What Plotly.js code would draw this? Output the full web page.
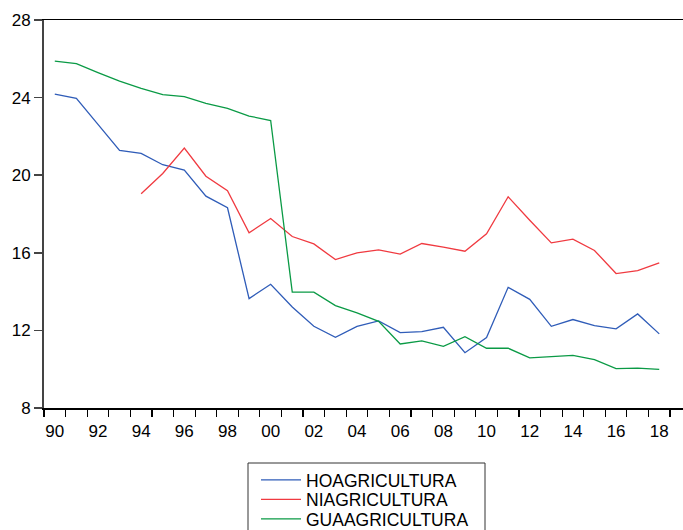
<!DOCTYPE html>
<html>
<head>
<meta charset="utf-8">
<script src="https://cdn.plot.ly/plotly-3.0.1.min.js"></script>
<style>
html,body{margin:0;padding:0;background:#fff;overflow:hidden;}
#chart{width:683px;height:560px;}
</style>
</head>
<body>
<div id="chart"></div>
<script>
const years = [1990,1991,1992,1993,1994,1995,1996,1997,1998,1999,2000,2001,2002,2003,2004,2005,2006,2007,2008,2009,2010,2011,2012,2013,2014,2015,2016,2017,2018];
const hoAgricultura = [24.18,23.96,22.62,21.28,21.12,20.54,20.26,18.92,18.32,13.64,14.38,13.21,12.21,11.64,12.21,12.49,11.89,11.94,12.16,10.85,11.63,14.22,13.60,12.21,12.56,12.25,12.08,12.85,11.82];
const niAgricultura = [null,null,null,null,19.04,20.09,21.40,19.95,19.20,17.03,17.77,16.84,16.46,15.65,16.00,16.15,15.93,16.48,16.29,16.08,16.98,18.89,17.68,16.51,16.70,16.12,14.93,15.08,15.48];
const guaAgricultura = [25.88,25.75,25.29,24.85,24.48,24.15,24.05,23.70,23.44,23.05,22.82,13.97,13.97,13.28,12.90,12.47,11.30,11.46,11.18,11.68,11.08,11.08,10.58,10.66,10.71,10.49,10.03,10.06,9.99];
const seriesNames = ["HOAGRICULTURA","NIAGRICULTURA","GUAAGRICULTURA"];
const xLabelVals = [1990,1992,1994,1996,1998,2000,2002,2004,2006,2008,2010,2012,2014,2016,2018];
const xLabelText = ["90","92","94","96","98","00","02","04","06","08","10","12","14","16","18"];
const yTickVals = [8,12,16,20,24,28];

const font = "Arial, 'Liberation Sans', sans-serif";
const colors = ["#2f5cb8","#f03a40","#0a9a45"];
const legendIds = ['legend','legend2','legend3'];
const data = [hoAgricultura, niAgricultura, guaAgricultura].map((v,i)=>({
  x: years, y: v, type:'scatter', mode:'lines', name: seriesNames[i],
  line:{color:colors[i], width:1.3}, connectgaps:false, legend: legendIds[i]
}));

const H = 560;
const L = 44, T = 20, PW = 639, PB = 408, PH = PB - T;
const px2x = p => (p - L) / PW;
const py2y = p => (PB - p) / PH;
const legendTops = [462, 481.5, 501];
function mkLegend(top){
  return {
    x:px2x(256), y:py2y(top), xanchor:'left', yanchor:'top',
    borderwidth:0, bgcolor:'rgba(0,0,0,0)',
    font:{family:font, size:17.5, color:'#000'},
    itemwidth:40
  };
}
const layout = {
  width:683, height:H,
  margin:{l:L, r:0, t:T, b:H-PB},
  paper_bgcolor:'#fff', plot_bgcolor:'#fff',
  font:{family:font, size:17, color:'#000'},
  showlegend:true,
  legend: mkLegend(legendTops[0]),
  legend2: mkLegend(legendTops[1]),
  legend3: mkLegend(legendTops[2]),
  shapes:[{
    type:'rect', xref:'paper', yref:'paper',
    x0:px2x(248), x1:px2x(485), y0:py2y(H+5), y1:py2y(463),
    line:{color:'#333', width:1}, fillcolor:'rgba(0,0,0,0)', layer:'below'
  }],
  xaxis:{
    range:[1989.5, 2019.1],
    tickmode:'array', tickvals:xLabelVals, ticktext:xLabelText,
    ticks:'outside', ticklen:7, tickcolor:'rgba(0,0,0,0)',
    showline:true, linecolor:'#000', linewidth:1.5, mirror:true,
    showgrid:false, zeroline:false,
    minor:{tickmode:'linear', tick0:1989.5, dtick:1, ticks:'outside', ticklen:7, tickcolor:'#000', tickwidth:1.2, showgrid:false},
    tickfont:{family:font, size:17, color:'#000'}
  },
  yaxis:{
    range:[8,28],
    tickmode:'array', tickvals:yTickVals,
    ticks:'outside', ticklen:8, tickcolor:'#444', tickwidth:1.5,
    showline:true, linecolor:'#444', linewidth:2,
    showgrid:false, zeroline:false,
    tickfont:{family:font, size:17, color:'#000'}
  }
};
Plotly.newPlot('chart', data, layout, {staticPlot:true, displayModeBar:false});
</script>
</body>
</html>
